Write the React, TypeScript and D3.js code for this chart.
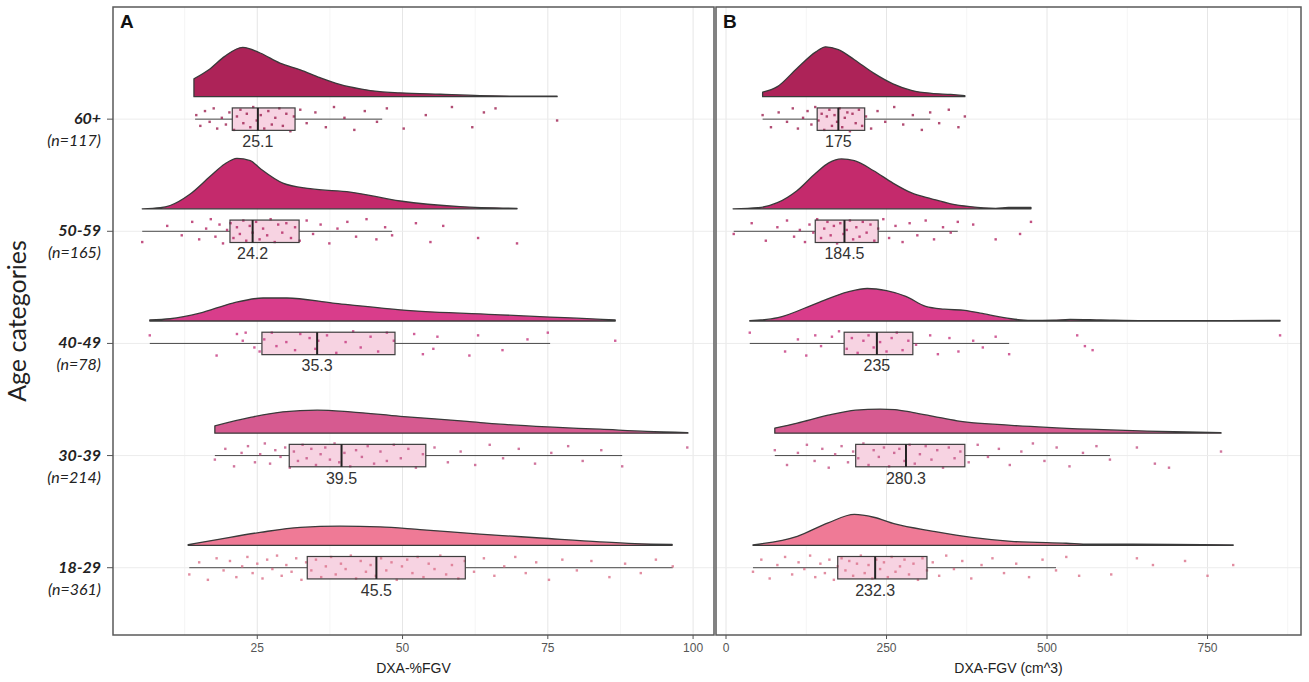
import * as d3 from "d3";

// age groups, top to bottom
const ageGroups = ["60+", "50-59", "40-49", "30-39", "18-29"];
const groupCounts = [117, 165, 78, 214, 361];
const groupColors = ["#ad2358", "#c42a6c", "#d93d8b", "#d65a90", "#ef7a96"];

// Panel A: DXA-%FGV
// density curves: [value, relative density]
const pctDensity: [number, number][][] = [
  [[14.1, 0.16], [16.9, 0.25], [19.4, 0.36], [22.5, 0.44], [25.5, 0.39], [28.9, 0.3], [32.4, 0.24], [35.8, 0.17], [39.2, 0.11], [42.7, 0.07], [46.1, 0.045], [49.6, 0.035], [56.5, 0.022], [63.3, 0.01], [70.2, 0.005], [76.6, 0.005]],
  [[5.2, 0], [8.3, 0.01], [10, 0.03], [13.4, 0.13], [16.9, 0.29], [19.4, 0.4], [21.5, 0.45], [23.8, 0.43], [25.5, 0.36], [29.4, 0.23], [34.1, 0.18], [41, 0.15], [49.6, 0.07], [59.9, 0.02], [69.7, 0.005]],
  [[6.5, 0.01], [10, 0.02], [15.1, 0.07], [20.8, 0.16], [26, 0.205], [30.1, 0.205], [38, 0.16], [49.6, 0.1], [66.8, 0.055], [75.4, 0.035], [80, 0.025], [86.6, 0.01]],
  [[17.7, 0.065], [23.8, 0.14], [29.4, 0.19], [35.3, 0.205], [41, 0.19], [49.6, 0.15], [61.1, 0.105], [66.8, 0.08], [75, 0.055], [84, 0.035], [92, 0.015], [99.1, 0.005]],
  [[13.1, 0.005], [18.6, 0.055], [25.5, 0.115], [32.4, 0.16], [39.2, 0.17], [46.1, 0.165], [53, 0.14], [63.3, 0.1], [73.7, 0.065], [84, 0.03], [90, 0.015], [96.4, 0.008]],
];
// box stats: [whisker low, q1, median, q3, whisker high]
const pctBox = [
  [14.3, 20.7, 25.1, 31.5, 46.5],
  [5.2, 20.3, 24.2, 32.2, 48.2],
  [6.5, 25.8, 35.3, 48.7, 75.4],
  [17.7, 30.5, 39.5, 54.0, 87.8],
  [13.3, 33.6, 45.5, 60.8, 96.5],
];
// raw points: [value, jitter]
const pctPoints: [number, number][][] = [
  [[14.5, 0.3], [15.2, -0.5], [16, 0.6], [16.8, -0.2], [17.5, 0.8], [18.1, -0.7], [18.9, 0.1], [19.6, -0.4], [20.2, 0.5], [21, -0.8], [21.5, 0.2], [22.1, 0.7], [22.6, -0.3], [23.2, 0.4], [23.8, -0.6], [24.3, 0.9], [24.9, -0.1], [25.6, 0.3], [26.2, -0.7], [26.9, 0.6], [27.5, -0.4], [28.1, 0.1], [28.8, 0.8], [29.4, -0.5], [30, 0.4], [30.7, -0.9], [31.3, 0.2], [32.4, 0.7], [33.5, -0.3], [35, 0.5], [36.8, -0.6], [38.2, 0.9], [40, 0.1], [41.7, -0.8], [43.5, 0.6], [45.6, -0.2], [47.3, 0.8], [50.2, -0.7], [54, 0.3], [58.5, 0.9], [62, -0.6], [64, 0.5], [66, 0.8], [76.6, -0.1]],
  [[5.2, -0.8], [9.5, 0.4], [12, -0.3], [13.8, 0.7], [15, -0.6], [16.2, 0.2], [17, 0.9], [17.8, -0.4], [18.5, 0.5], [19.1, -0.9], [19.8, 0.1], [20.4, 0.6], [20.9, -0.5], [21.5, 0.3], [22, -0.2], [22.6, 0.8], [23.1, -0.7], [23.7, 0.4], [24.2, -0.1], [24.8, 0.7], [25.4, -0.6], [26, 0.2], [26.7, -0.3], [27.3, 0.9], [28, -0.8], [28.6, 0.5], [29.3, -0.1], [30, 0.6], [30.8, -0.5], [31.5, 0.3], [32.3, -0.7], [33.5, 0.8], [34.6, -0.2], [35.9, 0.5], [37.4, -0.9], [38.8, 0.2], [40.5, 0.7], [42, -0.4], [43.8, 0.9], [45.5, -0.6], [47, 0.3], [48.2, -0.3], [52.3, 0.6], [54.8, -0.8], [57, 0.4], [63, -0.5], [69.7, -0.9]],
  [[6.5, 0.6], [18, -0.9], [21.5, 0.7], [22.5, 0.2], [23, 0.8], [24.5, -0.3], [25.4, -0.6], [26.2, 0.3], [27.5, 0.8], [28.3, -0.2], [30, 0.1], [31.5, -0.5], [32.4, 0.7], [34, 0.4], [35, -0.4], [35.5, 0.2], [37, 0.6], [38.6, -0.7], [40.2, 0.1], [41.5, 0.9], [42.8, -0.3], [44.5, 0.5], [45.8, -0.6], [47.3, 0.8], [48.5, 0.2], [52, 0.7], [53.5, -0.8], [55.3, -0.4], [56, 0.5], [61.5, -0.9], [63, 0.6], [67.2, -0.5], [71.5, 0.3], [75, 0.8], [86.6, 0.2]],
  [[17.7, -0.3], [19.5, 0.5], [21, -0.8], [22.3, 0.2], [23.4, 0.7], [24.6, -0.5], [25.5, 0.1], [26.3, 0.9], [27.2, -0.6], [28.1, 0.4], [29, -0.1], [29.8, 0.6], [30.6, -0.9], [31.3, 0.3], [32, -0.4], [32.8, 0.8], [33.5, -0.2], [34.3, 0.5], [35.1, -0.7], [35.9, 0.1], [36.7, 0.6], [37.5, -0.3], [38.3, 0.9], [39.1, -0.5], [40, 0.2], [41, -0.8], [42, 0.4], [43, -0.1], [44, 0.7], [45.1, -0.6], [46.2, 0.3], [47.3, -0.4], [48.5, 0.8], [49.7, -0.2], [51, 0.5], [52.3, -0.9], [53.5, 0.1], [55.5, 0.6], [57.8, -0.5], [60, 0.3], [62.5, -0.7], [65, 0.8], [67.3, -0.2], [70, 0.5], [72.8, -0.6], [75.6, 0.2], [78.5, 0.7], [81, -0.4], [84.2, 0.4], [87.8, -0.8], [99, 0.6]],
  [[13.3, -0.5], [15, 0.4], [16.5, -0.9], [18, 0.7], [19.2, -0.2], [20.3, 0.5], [21.4, -0.7], [22.4, 0.1], [23.3, 0.8], [24.2, -0.4], [25, 0.3], [25.9, -0.8], [26.7, 0.6], [27.6, -0.1], [28.4, 0.9], [29.2, -0.6], [30, 0.2], [30.9, -0.3], [31.7, 0.7], [32.6, -0.9], [33.4, 0.4], [34.3, -0.2], [35.1, 0.6], [36, -0.7], [36.8, 0.1], [37.7, 0.8], [38.5, -0.5], [39.4, 0.3], [40.2, -0.1], [41.1, 0.9], [42, -0.8], [42.8, 0.5], [43.7, -0.3], [44.5, 0.2], [45.4, -0.6], [46.3, 0.7], [47.2, -0.2], [48.1, 0.4], [49, -0.9], [49.9, 0.1], [50.8, 0.6], [51.7, -0.4], [52.6, 0.8], [53.6, -0.7], [54.5, 0.3], [55.5, -0.1], [56.5, 0.9], [57.5, -0.5], [58.5, 0.2], [59.6, -0.8], [60.7, 0.5], [62.3, -0.3], [64, 0.7], [65.8, -0.6], [67.5, 0.1], [69.4, 0.8], [71.2, -0.4], [73, 0.4], [75.2, -0.9], [77.5, 0.6], [80, -0.2], [82.5, 0.5], [85.6, -0.7], [88.3, 0.3], [91, -0.4], [93.6, 0.6], [96.5, 0.1]],
];

// Panel B: DXA-FGV (cm^3)
const fgvDensity: [number, number][][] = [
  [[57, 0.04], [80, 0.09], [110, 0.25], [140, 0.4], [155, 0.445], [175, 0.42], [200, 0.33], [230, 0.21], [260, 0.115], [290, 0.055], [320, 0.03], [350, 0.02], [372, 0.01]],
  [[11, 0], [50, 0.01], [80, 0.055], [110, 0.16], [140, 0.32], [160, 0.41], [180, 0.445], [200, 0.43], [230, 0.34], [260, 0.23], [290, 0.14], [320, 0.09], [350, 0.045], [380, 0.02], [420, 0.005], [440, 0.012], [475, 0.012]],
  [[37, 0.003], [81, 0.03], [142, 0.16], [190, 0.26], [220, 0.29], [250, 0.27], [280, 0.22], [311, 0.13], [340, 0.105], [372, 0.095], [396, 0.07], [444, 0.02], [475, 0.006], [510, 0.008], [536, 0.014], [584, 0.009], [651, 0.003], [783, 0.003], [863, 0.005]],
  [[76, 0.045], [111, 0.09], [159, 0.16], [202, 0.205], [240, 0.215], [263, 0.21], [290, 0.185], [323, 0.15], [360, 0.11], [444, 0.07], [565, 0.035], [656, 0.018], [717, 0.01], [771, 0.005]],
  [[42, 0.004], [111, 0.08], [159, 0.2], [200, 0.275], [230, 0.25], [263, 0.19], [323, 0.125], [383, 0.07], [444, 0.035], [530, 0.018], [566, 0.01], [693, 0.009], [790, 0.003]],
];
const fgvBox = [
  [57, 142, 175, 216, 318],
  [12, 139, 184.5, 237, 361],
  [37, 184, 235, 291, 441],
  [76, 202, 280.3, 372, 598],
  [42, 174, 232.3, 313, 514],
];
const fgvPoints: [number, number][][] = [
  [[57, 0.3], [70, -0.6], [82, 0.5], [95, -0.2], [104, 0.8], [112, -0.7], [120, 0.1], [127, 0.6], [133, -0.4], [139, 0.9], [144, -0.1], [149, 0.4], [153, -0.8], [157, 0.2], [161, 0.7], [165, -0.5], [169, 0.3], [173, -0.2], [177, 0.8], [181, -0.6], [185, 0.1], [189, 0.5], [193, -0.9], [197, 0.4], [202, -0.3], [207, 0.7], [212, -0.5], [218, 0.2], [226, -0.7], [236, 0.6], [248, -0.2], [262, 0.9], [276, -0.4], [291, 0.3], [305, -0.8], [318, 0.5], [332, -0.3], [347, 0.7], [362, -0.6], [372, 0.2]],
  [[12, -0.2], [40, 0.6], [62, -0.7], [80, 0.3], [95, 0.8], [106, -0.4], [115, 0.1], [123, -0.8], [130, 0.5], [136, -0.1], [142, 0.9], [148, -0.5], [153, 0.2], [158, 0.7], [163, -0.3], [168, 0.4], [173, -0.9], [178, 0.6], [183, -0.2], [188, 0.1], [193, 0.8], [198, -0.6], [203, 0.3], [208, -0.4], [213, 0.7], [219, -0.1], [225, 0.5], [231, -0.7], [237, 0.2], [245, 0.9], [254, -0.5], [264, 0.4], [275, -0.8], [286, 0.6], [298, -0.3], [311, 0.8], [324, -0.6], [338, 0.3], [350, -0.1], [361, 0.7], [385, 0.5], [420, -0.6], [458, -0.2], [475, 0.7]],
  [[37, 0.8], [92, -0.6], [112, 0.3], [125, -0.9], [139, 0.6], [148, -0.2], [165, 0.5], [176, 0.9], [188, -0.4], [196, 0.4], [205, -0.7], [214, 0.2], [222, 0.6], [230, -0.3], [240, 0.1], [250, -0.6], [258, 0.4], [266, 0.8], [275, -0.5], [284, 0.2], [296, -0.1], [318, 0.6], [330, -0.8], [348, 0.4], [362, -0.6], [385, 0.2], [400, -0.3], [420, 0.5], [441, -0.8], [547, 0.6], [559, -0.2], [571, -0.5], [863, 0.6]],
  [[76, 0.4], [95, -0.7], [112, 0.2], [126, 0.8], [138, -0.4], [150, 0.5], [160, -0.9], [170, 0.1], [180, 0.7], [190, -0.5], [198, 0.3], [206, -0.2], [214, 0.9], [222, -0.7], [230, 0.4], [238, -0.1], [246, 0.6], [254, -0.8], [262, 0.2], [270, 0.5], [278, -0.4], [286, 0.8], [294, -0.6], [302, 0.1], [311, 0.7], [320, -0.3], [329, 0.4], [338, -0.9], [347, 0.6], [356, -0.2], [365, 0.3], [378, -0.5], [392, 0.8], [408, -0.1], [425, 0.5], [442, -0.7], [460, 0.3], [478, 0.9], [496, -0.4], [515, 0.6], [535, -0.8], [556, 0.2], [577, 0.7], [598, -0.3], [640, 0.6], [668, -0.6], [690, -0.9], [771, 0.3]],
  [[42, -0.3], [55, 0.6], [68, -0.8], [80, 0.2], [92, 0.8], [103, -0.5], [113, 0.4], [122, -0.1], [131, 0.9], [139, -0.7], [147, 0.3], [154, -0.4], [161, 0.6], [168, -0.9], [174, 0.1], [180, 0.7], [186, -0.2], [192, 0.5], [198, -0.6], [204, 0.3], [210, 0.9], [216, -0.4], [222, 0.2], [228, -0.8], [234, 0.6], [240, -0.1], [246, 0.4], [252, -0.7], [258, 0.8], [264, -0.3], [271, 0.1], [278, 0.6], [285, -0.5], [292, 0.3], [299, -0.9], [306, 0.7], [313, -0.2], [322, 0.4], [332, -0.6], [343, 0.9], [355, -0.1], [368, 0.5], [382, -0.8], [398, 0.2], [415, 0.7], [433, -0.4], [452, 0.3], [472, -0.7], [493, 0.6], [514, -0.2], [530, 0.8], [550, -0.6], [600, -0.5], [640, 0.7], [665, 0.2], [715, 0.5], [750, -0.6], [790, 0.2]],
];

const pctTicks = [25, 50, 75, 100];
const pctMinor = [12.5, 37.5, 62.5, 87.5];
const fgvTicks = [0, 250, 500, 750];
const fgvMinor = [125, 375, 625, 875];

const W = 1309;
const H = 682;
const top = 7;
const bottom = 635;

// rows: 18-29 = 1 ... 60+ = 5
const y = d3.scaleLinear().domain([0.4, 6.0]).range([bottom, top]);
const rowOf = (i: number) => ageGroups.length - i;

interface PanelProps {
  x: d3.ScaleLinear<number, number>;
  density: [number, number][][];
  boxes: number[][];
  points: [number, number][][];
  ticks: number[];
  minor: number[];
  title: string;
  letter: string;
}

function Panel({ x, density, boxes, points, ticks, minor, title, letter }: PanelProps) {
  const [x0, x1] = x.range();
  const font = "'Liberation Sans', Arial, sans-serif";
  return (
    <g>
      <rect x={x0} y={top} width={x1 - x0} height={bottom - top} fill="#fff" />
      {minor.map((t) => (
        <line key={"m" + t} x1={x(t)} x2={x(t)} y1={top} y2={bottom} stroke="#f2f2f2" strokeWidth={0.8} />
      ))}
      {ticks.map((t) => (
        <line key={"g" + t} x1={x(t)} x2={x(t)} y1={top} y2={bottom} stroke="#e6e6e6" strokeWidth={1} />
      ))}
      {ageGroups.map((g, i) => (
        <line key={"h" + g} x1={x0} x2={x1} y1={y(rowOf(i))} y2={y(rowOf(i))} stroke="#ececec" strokeWidth={1} />
      ))}
      {ageGroups.map((g, i) => {
        const row = rowOf(i);
        const base = row + 0.2;
        const area = d3
          .area<[number, number]>()
          .x((d) => x(d[0]))
          .y0(y(base))
          .y1((d) => y(base + d[1]))
          .curve(d3.curveMonotoneX);
        const [lo, q1, med, q3, hi] = boxes[i];
        const cy = y(row);
        const bh = y(row - 0.1) - cy;
        const dot = d3.color(groupColors[i])!.darker(0.25).formatHex();
        return (
          <g key={g}>
            <path d={area(density[i]) || ""} fill={groupColors[i]} stroke="#3a3a3a" strokeWidth={1.3} strokeLinejoin="round" />
            <line x1={x(lo)} x2={x(q1)} y1={cy} y2={cy} stroke="#4a4a4a" strokeWidth={1} />
            <line x1={x(q3)} x2={x(hi)} y1={cy} y2={cy} stroke="#4a4a4a" strokeWidth={1} />
            <rect x={x(q1)} y={cy - bh} width={x(q3) - x(q1)} height={bh * 2} fill="#f7d3e2" />
            {points[i].map(([v, j], k) => (
              <rect key={k} x={x(v) - 1.2} y={y(row + j * 0.12) - 1.2} width={2.4} height={2.4} fill={dot} opacity={0.8} />
            ))}
            <rect x={x(q1)} y={cy - bh} width={x(q3) - x(q1)} height={bh * 2} fill="none" stroke="#3d3d3d" strokeWidth={1.2} />
            <line x1={x(med)} x2={x(med)} y1={cy - bh} y2={cy + bh} stroke="#222" strokeWidth={2} />
            <text x={x(med)} y={cy + 28} textAnchor="middle" fontFamily={font} fontSize={16} fill="#333">
              {String(med)}
            </text>
          </g>
        );
      })}
      <rect x={x0} y={top} width={x1 - x0} height={bottom - top} fill="none" stroke="#5a5a5a" strokeWidth={1.5} />
      {ticks.map((t) => (
        <g key={"t" + t}>
          <line x1={x(t)} x2={x(t)} y1={bottom} y2={bottom + 4} stroke="#555" />
          <text x={x(t)} y={bottom + 17} textAnchor="middle" fontFamily={font} fontSize={12} fill="#555">
            {t}
          </text>
        </g>
      ))}
      <text x={(x0 + x1) / 2} y={bottom + 38} textAnchor="middle" fontFamily={font} fontSize={14} fill="#222">
        {title}
      </text>
      <text x={x0 + 7} y={top + 21} fontFamily={font} fontSize={19} fontWeight="bold" fill="#111">
        {letter}
      </text>
    </g>
  );
}

export default function App() {
  const xPct = d3.scaleLinear().domain([0.17, 103.6]).range([113, 714]);
  const xFgv = d3.scaleLinear().domain([-15.6, 895.6]).range([716, 1301]);
  const labelFont = "Lato, 'Open Sans', sans-serif";
  return (
    <svg width={W} height={H} style={{ position: "absolute", left: 0, top: 0, background: "#fff" }}>
      <rect width={W} height={H} fill="#fff" />
      <Panel x={xPct} density={pctDensity} boxes={pctBox} points={pctPoints} ticks={pctTicks} minor={pctMinor} title="DXA-%FGV" letter="A" />
      <Panel x={xFgv} density={fgvDensity} boxes={fgvBox} points={fgvPoints} ticks={fgvTicks} minor={fgvMinor} title="DXA-FGV (cm^3)" letter="B" />
      {ageGroups.map((g, i) => {
        const cy = y(rowOf(i));
        return (
          <g key={g}>
            <line x1={107} x2={113} y1={cy} y2={cy} stroke="#555" />
            <text x={101} y={cy + 5} textAnchor="end" fontFamily={labelFont} fontSize={16} fontWeight="bold" fontStyle="italic" fill="#222">
              {g}
            </text>
            <text x={101} y={cy + 27} textAnchor="end" fontFamily={labelFont} fontSize={16} fontStyle="italic" fill="#222">
              {`(n=${groupCounts[i]})`}
            </text>
          </g>
        );
      })}
      <text transform={`translate(26, ${(top + bottom) / 2}) rotate(-90)`} textAnchor="middle" fontFamily={labelFont} fontSize={25} fill="#222">
        Age categories
      </text>
    </svg>
  );
}
